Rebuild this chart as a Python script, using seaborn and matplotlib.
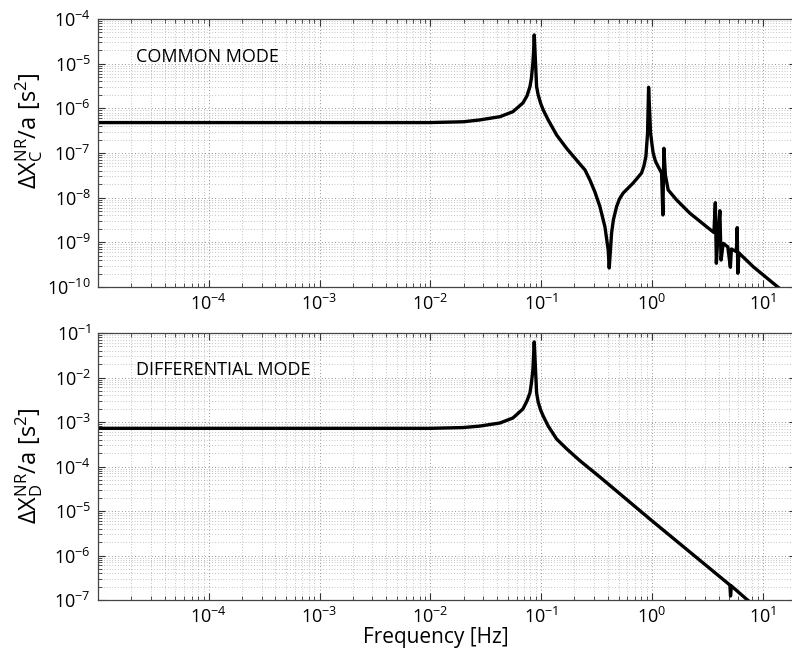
import numpy as np
import pandas as pd
import matplotlib
matplotlib.use("Agg")
import matplotlib.pyplot as plt
import matplotlib.ticker as mticker
import seaborn as sns

# ---- data ----
freq_common = [1e-5, 0.0099, 0.0198, 0.028, 0.0425, 0.0556, 0.0685, 0.0745, 0.0793, 0.0818, 0.0843,
               0.0855, 0.0867,
               0.0911, 0.0941, 0.0990, 0.1045, 0.1159, 0.138, 0.170, 0.2207, 0.249, 0.2757,
               0.306, 0.3396, 0.3767, 0.4035, 0.412, 0.4328, 0.449, 0.480, 0.509, 0.5508,
               0.678, 0.807, 0.847, 0.883, 0.9145, 0.934,
               0.973, 1.004, 1.027, 1.076, 1.14, 1.223, 1.257, 1.283, 1.324, 1.403, 1.671, 2.20,
               3.117, 3.63, 3.74, 3.82, 3.94, 4.11, 4.21, 4.40, 4.85, 5.11, 5.22,
               5.79, 5.89, 5.97, 6.10, 8.21, 13.7, 17.6]
resp_common = [4.8e-7, 4.8e-7, 5.0e-7, 5.5e-7, 6.5e-7, 8.4e-7, 1.32e-6, 1.89e-6, 3.05e-6, 4.78e-6, 1.04e-5,
               1.82e-5, 4.4e-5,
               3.05e-6, 1.99e-6, 1.30e-6, 9.2e-7, 5.5e-7, 2.53e-7, 1.27e-7, 5.9e-8, 4.17e-8, 2.49e-8,
               1.34e-8, 6.3e-9, 2.24e-9, 6.7e-10, 2.67e-10, 1.62e-9, 3.16e-9, 6.3e-9, 9.3e-9, 1.27e-8,
               2.13e-8, 3.57e-8, 5.1e-8, 8.3e-8, 2.8e-7, 2.96e-6,
               2.8e-7, 1.51e-7, 1.0e-7, 6.6e-8, 4.94e-8, 3.57e-8, 4.1e-9, 1.27e-7, 3.2e-8, 1.49e-8,
               8.9e-9, 4.5e-9,
               2.24e-9, 1.66e-9, 7.7e-9, 3.4e-10, 1.32e-9, 5.1e-9, 4.0e-10, 9.5e-10, 7.9e-10,
               2.76e-10, 7.1e-10, 6.2e-10, 2.13e-9, 2.03e-10, 5.8e-10, 2.85e-10, 1.0e-10, 6.3e-11]

freq_diff = [1e-5, 0.0099, 0.0198, 0.028, 0.0425, 0.0556, 0.0685, 0.0745, 0.0793, 0.0818, 0.0843, 0.0867,
             0.0911, 0.0941, 0.0990, 0.1045, 0.1159, 0.138, 0.170, 0.224, 0.3396, 0.959,
             5.06, 5.13, 5.22, 7.16, 9.44]
resp_diff = [7.2e-4, 7.2e-4, 7.5e-4, 8.1e-4, 9.5e-4, 1.23e-3, 1.96e-3, 2.96e-3, 4.5e-3, 7.5e-3, 1.48e-2, 6.3e-2,
             4.5e-3, 2.81e-3, 1.86e-3, 1.36e-3, 8.1e-4, 4.15e-4, 2.5e-4, 1.35e-4, 5.8e-5, 6.6e-6,
             2.17e-7, 1.23e-7, 2.07e-7, 1.04e-7, 5.96e-8]

x_limits = (1e-5, 20)
ylim_common = (1e-10, 1e-4)
ylim_diff = (1e-7, 1e-1)
xticks = [1e-4, 1e-3, 1e-2, 1e-1, 1e0, 1e1]
yticks_common = [1e-10, 1e-9, 1e-8, 1e-7, 1e-6, 1e-5, 1e-4]
yticks_diff = [1e-7, 1e-6, 1e-5, 1e-4, 1e-3, 1e-2, 1e-1]
label_common = "COMMON MODE"
label_diff = "DIFFERENTIAL MODE"
ylabel_common = r"$\Delta\mathrm{X}_\mathrm{C}^\mathrm{NR}/\mathrm{a}\ [\mathrm{s}^2]$"
ylabel_diff = r"$\Delta\mathrm{X}_\mathrm{D}^\mathrm{NR}/\mathrm{a}\ [\mathrm{s}^2]$"
xlabel = "Frequency [Hz]"

df_c = pd.DataFrame({"f": freq_common, "v": resp_common})
df_d = pd.DataFrame({"f": freq_diff, "v": resp_diff})

sns.set_style("ticks")
plt.rcParams["font.family"] = ["Open Sans", "DejaVu Sans"]
plt.rcParams["mathtext.fontset"] = "custom"
plt.rcParams["mathtext.rm"] = "Open Sans"
plt.rcParams["mathtext.it"] = "Open Sans:italic"
plt.rcParams["mathtext.bf"] = "Open Sans:bold"
plt.rcParams["text.color"] = "black"

W, H = 792, 654
fig = plt.figure(figsize=(W / 100, H / 100), dpi=100)
ax_left = 98 / W
ax_w = (796 - 98) / W
ax1 = fig.add_axes([ax_left, 1 - 287 / H, ax_w, 268 / H])
ax2 = fig.add_axes([ax_left, 1 - 600 / H, ax_w, 267 / H])

for ax, df, ylim, yt, txt in [
    (ax1, df_c, ylim_common, yticks_common, label_common),
    (ax2, df_d, ylim_diff, yticks_diff, label_diff),
]:
    sns.lineplot(data=df, x="f", y="v", ax=ax, color="black", linewidth=2.4,
                 estimator=None, sort=False)
    ax.set_xscale("log")
    ax.set_yscale("log")
    ax.set_xlim(*x_limits)
    ax.set_ylim(*ylim)
    ax.set_xticks(xticks)
    ax.set_yticks(yt)
    ax.xaxis.set_minor_locator(mticker.LogLocator(base=10, subs=np.arange(2, 10), numticks=100))
    ax.yaxis.set_minor_locator(mticker.LogLocator(base=10, subs=np.arange(2, 10), numticks=100))
    ax.xaxis.set_minor_formatter(mticker.NullFormatter())
    ax.yaxis.set_minor_formatter(mticker.NullFormatter())
    ax.grid(True, which="major", color="#6f6f6f", linestyle=(0, (1, 3)), linewidth=0.6)
    ax.grid(True, which="minor", color="#8f8f8f", linestyle=(0, (1, 3)), linewidth=0.5)
    ax.tick_params(which="both", direction="in", top=True, right=True, labelsize=13,
                   colors="#333333", labelcolor="black")
    ax.tick_params(which="major", length=5, width=0.8)
    ax.tick_params(which="minor", length=3, width=0.6)
    ax.tick_params(axis="x", pad=5)
    ax.tick_params(axis="y", pad=5)
    for s in ax.spines.values():
        s.set_color("#444444")
        s.set_linewidth(0.9)
    ax.set_xlabel("")
    ax.set_ylabel("")
    ax.text(0.054, 0.86, txt, transform=ax.transAxes, fontsize=13, ha="left", va="center",
            color="black")

fig.text(29 / W, 1 - 131 / H, ylabel_common, rotation=90, ha="center", va="center", fontsize=17)
fig.text(29 / W, 1 - 466 / H, ylabel_diff, rotation=90, ha="center", va="center", fontsize=17)
fig.text(436 / W, 1 - 638 / H, xlabel, ha="center", va="center", fontsize=15)

fig.savefig("out.png", dpi=100)
